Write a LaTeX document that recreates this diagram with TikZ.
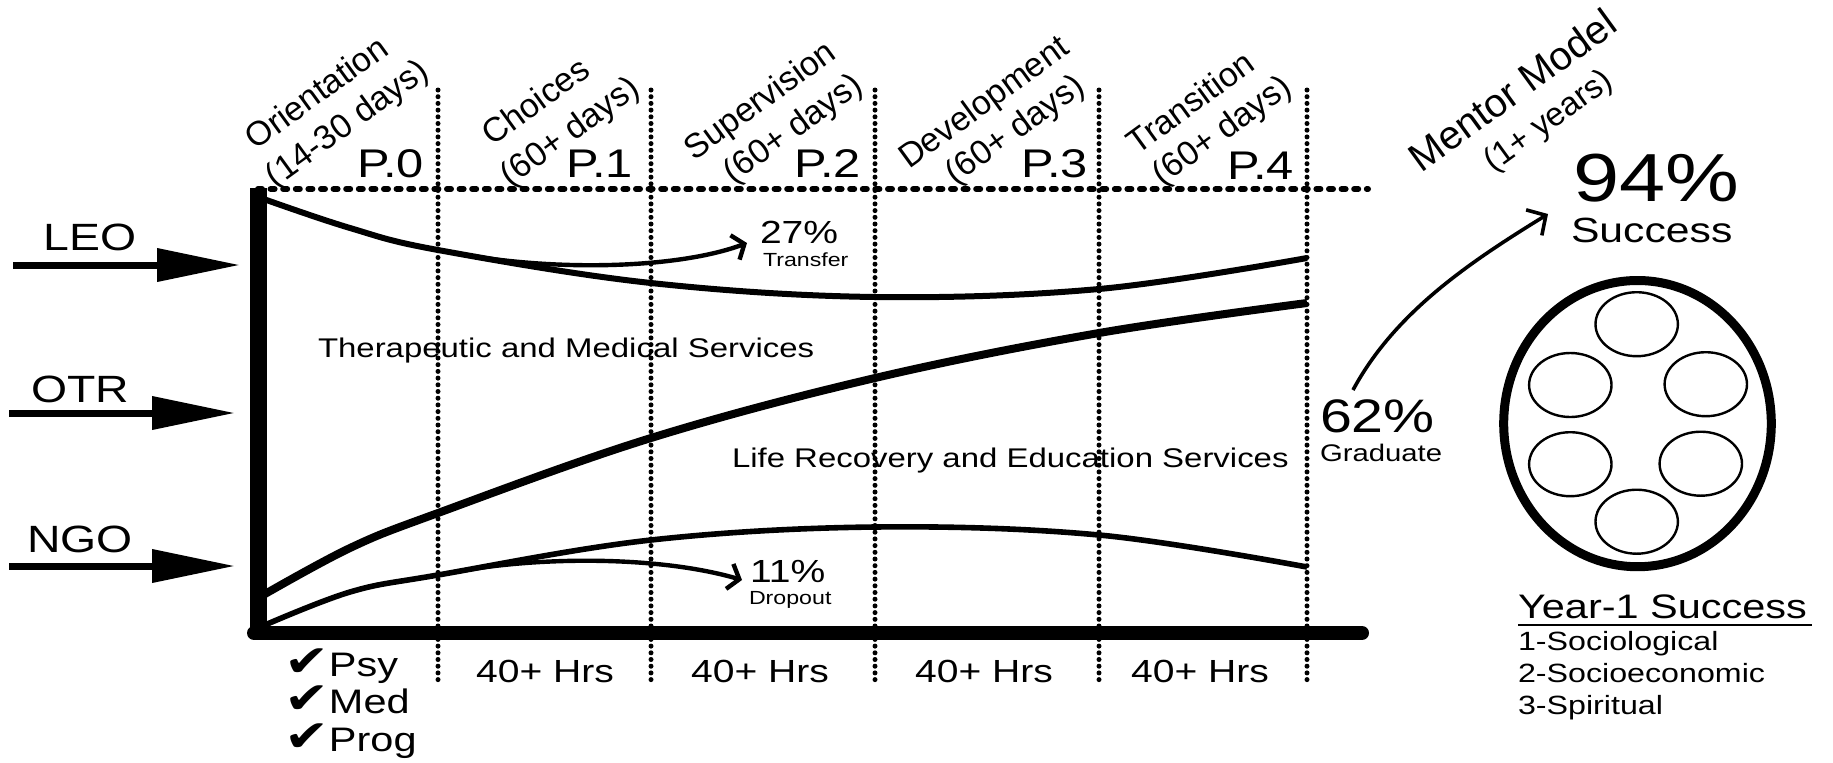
\documentclass[tikz,border=0pt]{standalone}
\usepackage{fontspec}
\setmainfont{Liberation Sans}
\newfontfamily\djv{DejaVu Sans}
\usetikzlibrary{arrows.meta}
\begin{document}
\begin{tikzpicture}[x=0.5pt,y=-0.5pt,
  txt/.style={inner sep=0pt, outer sep=0pt, xscale=1.22},
  fs/.style={font=\fontsize{#1}{#1}\selectfont},
  rot/.style={inner sep=0pt, outer sep=0pt, rotate=36, anchor=center, fs=17},
  vdots/.style={line width=2.5pt, dash pattern=on 0pt off 3.35pt, line cap=round},
  hdots/.style={line width=3pt, dash pattern=on 2pt off 4.3pt, line cap=round},
  inarrow/.style={line width=3.5pt, -{Triangle[length=41.5pt,width=16pt]}},
  barb/.style={line width=2.2pt, -{Straight Barb[length=5pt,width=13pt]}},
  bigbarb/.style={line width=1.8pt, -{Straight Barb[length=7pt,width=15pt]}},
  chk/.style={txt, fs=17, anchor=base west},
]
\useasboundingbox (0,0) rectangle (1833,762);

% dotted grid
\draw[hdots] (258,189) -- (1368,189);
\foreach \xx in {438,651,875,1099,1307}{
  \draw[vdots] (\xx,90) -- (\xx,684);
}

% flow curves
\draw[line width=3pt] plot[smooth, tension=0.6] coordinates {(258,197) (350,228) (438,250) (651,283) (875,297) (1099,289) (1307,258)};
\draw[line width=4pt] plot[smooth, tension=0.6] coordinates {(258,598) (350,548) (438,513) (651,438) (875,378) (1099,333) (1307,303)};
\draw[line width=2.8pt] plot[smooth, tension=0.6] coordinates {(258,628) (350,592) (438,575) (651,540) (875,527) (1099,535) (1307,567)};

% axes bars
\draw[line width=8.5pt] (258,188) -- (258,637);
\draw[line width=7pt, line cap=round] (254,633) -- (1362,633);

% input arrows
\node[txt, fs=19, anchor=base] (leo) at (90,250) {LEO};
\node[txt, fs=19, anchor=base] (otr) at (80,402) {OTR};
\node[txt, fs=19, anchor=base] (ngo) at (80,552) {NGO};
\coordinate (leoS) at (13,265); \coordinate (leoT) at (240,265);
\coordinate (otrS) at (9,413);  \coordinate (otrT) at (235,413);
\coordinate (ngoS) at (9,566);  \coordinate (ngoT) at (235,566);
\draw[inarrow] (leoS) -- (leoT);
\draw[inarrow] (otrS) -- (otrT);
\draw[inarrow] (ngoS) -- (ngoT);

% phase labels
\node[txt, fs=20, anchor=base east] (p0) at (424,177) {P.0};
\node[txt, fs=20, anchor=base east] (p1) at (633,177) {P.1};
\node[txt, fs=20, anchor=base east] (p2) at (861,177) {P.2};
\node[txt, fs=20, anchor=base east] (p3) at (1088,177) {P.3};
\node[txt, fs=20, anchor=base east] (p4) at (1294,179) {P.4};

\node[rot] (l0a) at (316,92) {Orientation};
\node[rot] (l0b) at (348,125) {(14-30 days)};
\node[rot] (l1a) at (535,101) {Choices};
\node[rot] (l1b) at (571,133) {(60+ days)};
\node[rot] (l2a) at (761,102) {Supervision};
\node[rot] (l2b) at (794,130) {(60+ days)};
\node[rot] (l3a) at (985,104) {Development};
\node[rot] (l3b) at (1016,131) {(60+ days)};
\node[rot] (l4a) at (1190,102) {Transition};
\node[rot] (l4b) at (1223,132) {(60+ days)};
\node[rot, fs=20] (mma) at (1512,90) {Mentor Model};
\node[rot, fs=16.5] (mmb) at (1549,122) {(1+ years)};

% region texts
\node[txt, fs=13.5, anchor=base west] (tms) at (318,357) {Therapeutic and Medical Services};
\node[txt, fs=13.5, anchor=base west] (lre) at (732,467) {Life Recovery and Education Services};

% transfer / dropout
\node[txt, fs=16, anchor=base west] (t27) at (760,243) {27\%};
\node[txt, fs=9.5, anchor=base west] (ttr) at (763,266) {Transfer};
\node[txt, fs=16, anchor=base west] (t11) at (750,582) {11\%};
\node[txt, fs=9.5, anchor=base west] (tdo) at (749,604) {Dropout};
\coordinate (trS) at (460,254); \coordinate (trE) at (747,243);
\coordinate (doS) at (455,572); \coordinate (doE) at (742,580);
\draw[barb] (trS) .. controls (560,272) and (680,268) .. (trE);
\draw[barb] (doS) .. controls (540,556) and (660,556) .. (doE);

% graduate
\node[txt, fs=23.5, anchor=base west] (g62) at (1320,432) {62\%};
\node[txt, fs=12, anchor=base west] (ggr) at (1320,461) {Graduate};
\node[txt, fs=34, anchor=base west] (s94) at (1573,201) {94\%};
\node[txt, fs=17.5, anchor=base west] (ssu) at (1571,242) {Success};
\coordinate (gaS) at (1353,390); \coordinate (gaE) at (1548,214);
\draw[bigbarb] (gaS) .. controls (1395,312) and (1470,262) .. (gaE);

% mentor model circles
\draw[line width=4.5pt] (1637.5,423.6) ellipse [x radius=66.9pt, y radius=71.55pt];
\foreach \cx/\cy in {1636.7/324.2, 1570.3/385, 1705.8/384.2, 1570.3/464.2, 1700.8/463.7, 1636.7/521.7}{
  \draw[line width=1.2pt] (\cx,\cy) ellipse [x radius=20.6pt, y radius=16pt];
}

% year-1 success
\node[txt, fs=17, anchor=base west] (y1) at (1518,618) {Year-1 Success};
\draw[line width=1pt] (1518,625) -- (1812,625);
\node[txt, fs=13.2, anchor=base west] (y1a) at (1518,650) {1-Sociological};
\node[txt, fs=13.2, anchor=base west] (y1b) at (1518,682) {2-Socioeconomic};
\node[txt, fs=13.2, anchor=base west] (y1c) at (1518,714) {3-Spiritual};

% bottom labels
\node[chk] (cpsy) at (284,676) {{\djv\fontsize{22}{22}\selectfont ✔}Psy};
\node[chk] (cmed) at (284,713) {{\djv\fontsize{22}{22}\selectfont ✔}Med};
\node[chk] (cprg) at (284,751) {{\djv\fontsize{22}{22}\selectfont ✔}Prog};
\node[txt, fs=16, anchor=base] (h1) at (545,682) {40+ Hrs};
\node[txt, fs=16, anchor=base] (h2) at (760,682) {40+ Hrs};
\node[txt, fs=16, anchor=base] (h3) at (984,682) {40+ Hrs};
\node[txt, fs=16, anchor=base] (h4) at (1200,682) {40+ Hrs};
\end{tikzpicture}
\end{document}
